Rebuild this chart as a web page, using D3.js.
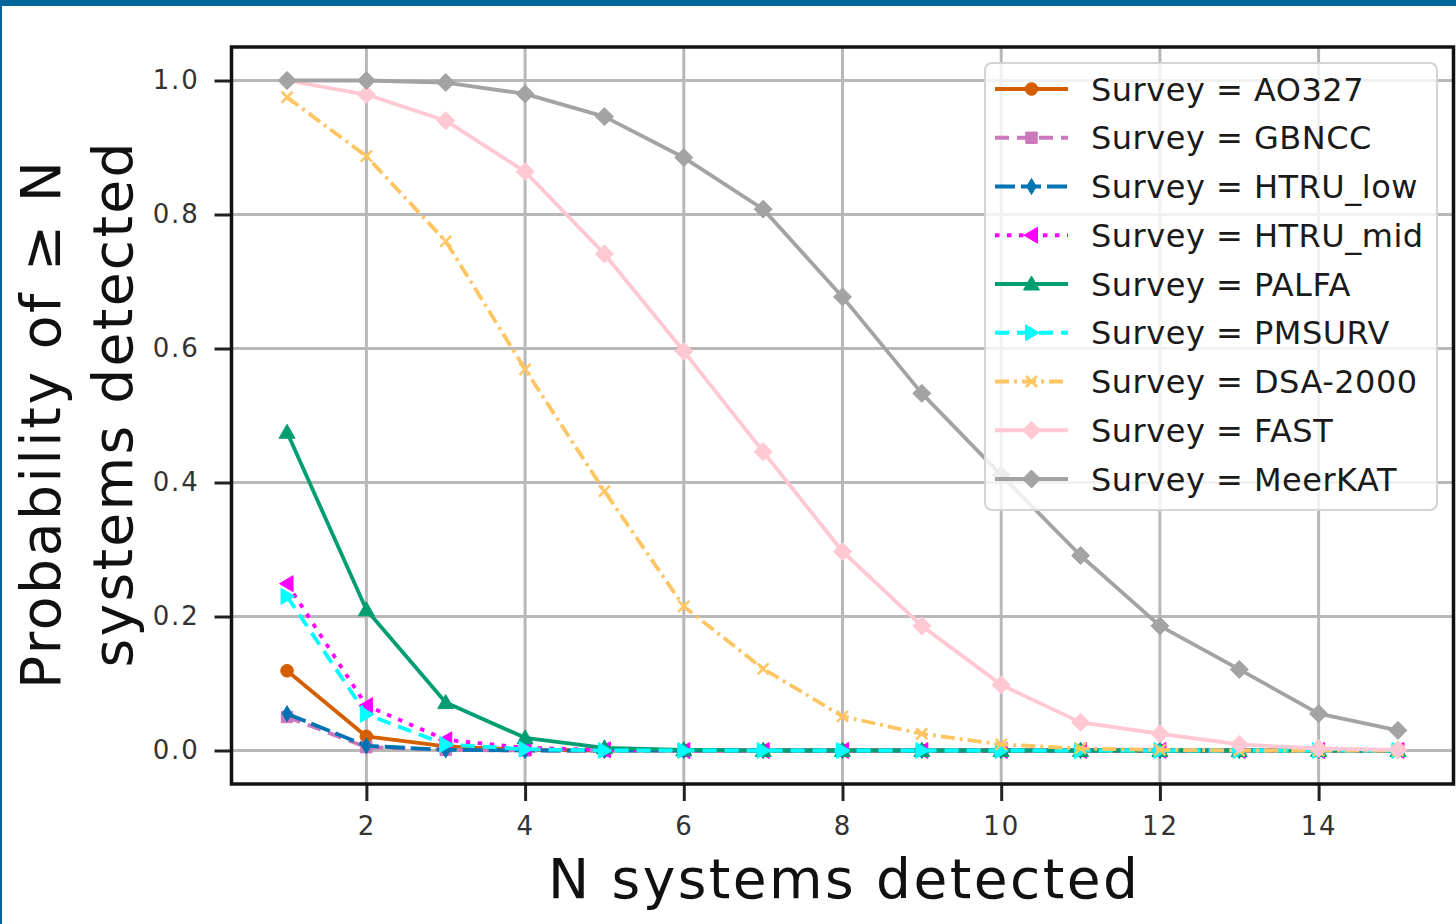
<!DOCTYPE html>
<html><head><meta charset="utf-8">
<script src="https://cdn.jsdelivr.net/npm/d3@7"></script>
<style>html,body{margin:0;padding:0;background:#fff;} svg{display:block;font-family:"DejaVu Sans",sans-serif;}</style>
</head><body><svg id="c" width="1456" height="924"></svg>
<script>
// ---------- data ----------
const nDetected = [1,2,3,4,5,6,7,8,9,10,11,12,13,14,15];
const surveyNames = ["AO327","GBNCC","HTRU_low","HTRU_mid","PALFA","PMSURV","DSA-2000","FAST","MeerKAT"];
const ao327   = [0.119,0.021,0.006,0.001,0,0,0,0,0,0,0,0,0,0,0];
const gbncc   = [0.050,0.005,0.001,0,0,0,0,0,0,0,0,0,0,0,0];
const htruLow = [0.055,0.007,0.001,0,0,0,0,0,0,0,0,0,0,0,0];
const htruMid = [0.249,0.067,0.016,0.004,0.001,0,0,0,0,0,0,0,0,0,0];
const palfa   = [0.475,0.210,0.0715,0.019,0.004,0.001,0,0,0,0,0,0,0,0,0];
const pmsurv  = [0.230,0.054,0.009,0.002,0,0,0,0,0,0,0,0,0,0,0];
const dsa2000 = [0.975,0.887,0.760,0.569,0.387,0.215,0.122,0.051,0.025,0.009,0.003,0.001,0,0,0];
const fast    = [1.0,0.979,0.940,0.864,0.741,0.596,0.446,0.297,0.186,0.098,0.042,0.025,0.009,0.003,0.001];
const meerkat = [1.0,1.0,0.997,0.980,0.946,0.885,0.808,0.677,0.533,0.411,0.291,0.186,0.121,0.055,0.030];
const xTicks = [2,4,6,8,10,12,14];
const yTicks = [0.0,0.2,0.4,0.6,0.8,1.0];
const xLabel = "N systems detected";
const yLabelLines = ["Probability of \u2265 N","systems detected"];

// ---------- styles ----------
const seriesValues = [ao327,gbncc,htruLow,htruMid,palfa,pmsurv,dsa2000,fast,meerkat];
const colors  = ["#d55e00","#cc78bc","#0173b2","#ff00ff","#029e73","#00ffff","#ffc562","#ffc8d2","#a3a3a3"];
const dashes  = [null,"14 8","20 6","4.5 7.5",null,"14 8","14 5 3 5",null,null];
const markers = ["circle","square","thin_diamond","tri_left","tri_up","tri_right","x","diamond","diamond"];

function markerPath(t){
  switch(t){
    case "circle": return d3.symbol(d3.symbolCircle,125)();
    case "square": return d3.symbol(d3.symbolSquare,130)();
    case "thin_diamond": return "M0,-8L4.8,0L0,8L-4.8,0Z";
    case "tri_left": return "M-7.5,0L6,-8L6,8Z";
    case "tri_up": return "M0,-8L8,6L-8,6Z";
    case "tri_right": return "M7.5,0L-6,-8L-6,8Z";
    case "x": return "M-5.5,-5.5L5.5,5.5M-5.5,5.5L5.5,-5.5";
    case "diamond": return "M0,-9L9,0L0,9L-9,0Z";
  }
}

const svg = d3.select("#c");
// frame
svg.append("rect").attr("x",0).attr("y",0).attr("width",1456).attr("height",6).attr("fill","#00669a");
svg.append("rect").attr("x",0).attr("y",0).attr("width",2).attr("height",924).attr("fill","#00669a");

const L=231.5, R=1453.5, T=47, B=784;
const x = d3.scaleLinear().domain([0.3,15.7]).range([L,R]);
const y = d3.scaleLinear().domain([-0.05,1.05]).range([B,T]);

// grid
const g = svg.append("g");
g.selectAll("line.gx").data(xTicks).enter().append("line")
  .attr("x1",d=>x(d)).attr("x2",d=>x(d)).attr("y1",T).attr("y2",B)
  .attr("stroke","#b8b8b8").attr("stroke-width",3);
g.selectAll("line.gy").data(yTicks).enter().append("line")
  .attr("x1",L).attr("x2",R).attr("y1",d=>y(d)).attr("y2",d=>y(d))
  .attr("stroke","#b8b8b8").attr("stroke-width",3);

// axes
const xa = svg.append("g").attr("transform",`translate(0,${B})`)
  .call(d3.axisBottom(x).tickValues(xTicks).tickSize(17).tickPadding(16).tickFormat(d3.format("d")));
const ya = svg.append("g").attr("transform",`translate(${L},0)`)
  .call(d3.axisLeft(y).tickValues(yTicks).tickSize(17).tickPadding(15).tickFormat(d3.format(".1f")));
[xa,ya].forEach(a=>{
  a.select(".domain").remove();
  a.selectAll(".tick line").attr("stroke","#222").attr("stroke-width",3);
  a.selectAll(".tick text").attr("fill","#333").attr("font-size",26).attr("font-family","DejaVu Sans").attr("letter-spacing",1.8);
});

// series
const line = d3.line().x((d,i)=>x(nDetected[i])).y(d=>y(d));
surveyNames.forEach((name,k)=>{
  const vals = seriesValues[k];
  const sg = svg.append("g");
  sg.append("path").attr("d",line(vals)).attr("fill","none")
    .attr("stroke",colors[k]).attr("stroke-width",3.8)
    .attr("stroke-dasharray",dashes[k]).attr("stroke-linejoin","round");
  sg.selectAll("path.m").data(vals).enter().append("path").attr("class","m")
    .attr("transform",(d,i)=>`translate(${x(nDetected[i])},${y(d)})`)
    .attr("d",markerPath(markers[k]))
    .attr("fill",markers[k]==="x"?"none":colors[k])
    .attr("stroke",colors[k]).attr("stroke-width",markers[k]==="x"?2.5:1);
});

// spines
svg.append("rect").attr("x",L).attr("y",T).attr("width",R-L).attr("height",B-T)
  .attr("fill","none").attr("stroke","#111").attr("stroke-width",3.5);

// legend
const lg = svg.append("g");
lg.append("rect").attr("x",985).attr("y",63).attr("width",452).attr("height",447).attr("rx",7)
  .attr("fill","#fff").attr("fill-opacity",0.8).attr("stroke","#d4d4d4").attr("stroke-width",2);
surveyNames.forEach((name,k)=>{
  const yy = 89 + k*48.75;
  lg.append("line").attr("x1",995).attr("x2",1068).attr("y1",yy).attr("y2",yy)
    .attr("stroke",colors[k]).attr("stroke-width",3.8).attr("stroke-dasharray",dashes[k]);
  lg.append("path").attr("transform",`translate(1031.5,${yy})`).attr("d",markerPath(markers[k]))
    .attr("fill",markers[k]==="x"?"none":colors[k]).attr("stroke",colors[k]).attr("stroke-width",markers[k]==="x"?2.5:1);
  lg.append("text").attr("x",1091).attr("y",yy).attr("dy","0.36em")
    .attr("font-size",32).attr("fill","#1a1a1a").attr("letter-spacing",0.5)
    .text("Survey = "+name);
});

// axis labels
svg.append("text").attr("x",843).attr("y",898).attr("text-anchor","middle")
  .attr("font-size",55).attr("fill","#111").attr("textLength",590).attr("lengthAdjust","spacing").text(xLabel);
svg.append("text").attr("transform","translate(60,425) rotate(-90)").attr("text-anchor","middle")
  .attr("font-size",55).attr("fill","#111").attr("textLength",528).attr("lengthAdjust","spacing").text(yLabelLines[0]);
svg.append("text").attr("transform","translate(132,405) rotate(-90)").attr("text-anchor","middle")
  .attr("font-size",55).attr("fill","#111").attr("textLength",525).attr("lengthAdjust","spacing").text(yLabelLines[1]);
</script></body></html>
